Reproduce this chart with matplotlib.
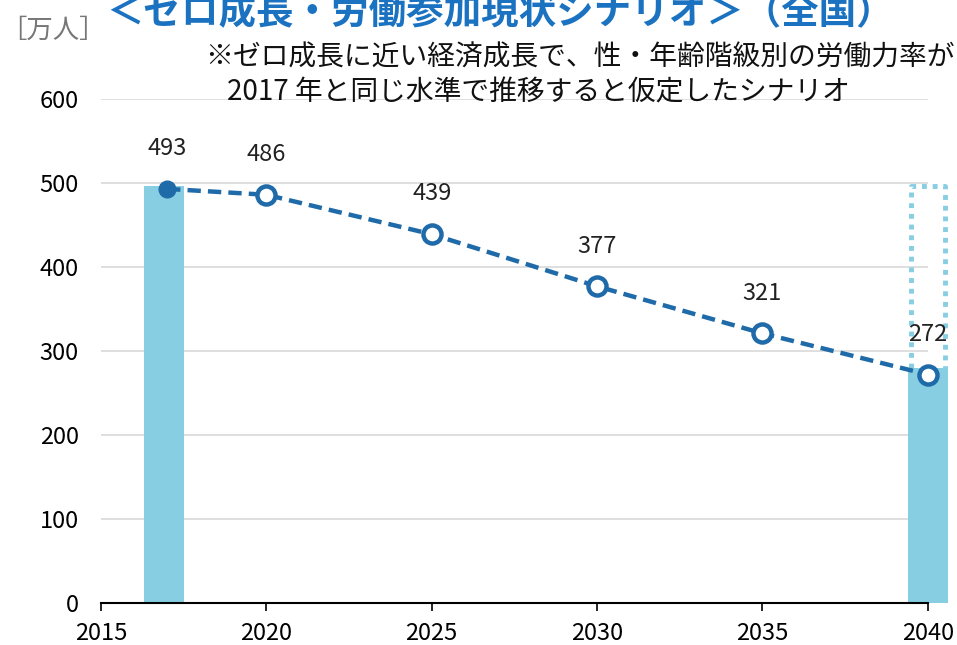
import matplotlib
matplotlib.use("Agg")
import matplotlib.pyplot as plt

plt.rcParams['font.family'] = ['Noto Sans CJK JP', 'DejaVu Sans']

# データ
years = [2017, 2020, 2025, 2030, 2035, 2040]
values = [493, 486, 439, 377, 321, 272]
bar_years = [2017, 2040]
bar_values = [497, 280]
outline_value = 497  # 2017年の水準（点線枠）

line_color = '#1f6aa8'
bar_color = '#87cee3'

fig = plt.figure(figsize=(9.57, 6.45), dpi=100)
ax = fig.add_axes([0.1055, 0.0651, 0.864, 0.7814])

ax.bar([bar_years[0] - 0.1, bar_years[1]], bar_values, width=1.22, color=bar_color,
       clip_on=False, zorder=2)
# 2040年の点線枠（2017年水準まで）
hw = 0.52
x0 = bar_years[1]
ax.plot([x0 - hw, x0 - hw, x0 + hw, x0 + hw],
        [bar_values[1], outline_value, outline_value, bar_values[1]],
        color=bar_color, linestyle=(0, (1, 1.2)), linewidth=3.5,
        clip_on=False, zorder=1)

ax.plot(years, values, color=line_color, linewidth=3.2, linestyle=(0, (3, 1.6)),
        zorder=3, clip_on=False)
ax.plot(years[1:], values[1:], 'o', markersize=13, markerfacecolor='white',
        markeredgecolor=line_color, markeredgewidth=3.2, zorder=4, clip_on=False)
ax.plot(years[:1], values[:1], 'o', markersize=12, color=line_color, zorder=4,
        clip_on=False)

for x, v in zip(years, values):
    ax.annotate(str(v), (x, v), xytext=(0, 29), textcoords='offset points',
                ha='center', va='center', fontsize=17, color='#222222')

ax.set_xlim(2015, 2040)
ax.set_ylim(0, 600)
ax.set_xticks(range(2015, 2041, 5))
ax.set_yticks(range(0, 601, 100))
ax.tick_params(axis='x', labelsize=17, length=6, width=1.2, color='black', pad=8)
ax.tick_params(axis='y', labelsize=17, length=0, pad=16)
ax.grid(axis='y', color='#d9d9d9', linewidth=1.2, zorder=0)
ax.set_axisbelow(True)
for s in ['top', 'right', 'left']:
    ax.spines[s].set_visible(False)
ax.spines['bottom'].set_linewidth(1.5)

fig.text(0.0, 0.953, '［万人］', fontsize=19, color='#777777', ha='left', va='center')
fig.text(0.522, 0.98, '＜ゼロ成長・労働参加現状シナリオ＞（全国）', fontsize=27,
         fontweight='bold', color='#1a72c0', ha='center', va='center')
fig.text(0.998, 0.910, '※ゼロ成長に近い経済成長で、性・年齢階級別の労働力率が',
         fontsize=20, ha='right', va='center', color='#111111')
fig.text(0.563, 0.857, '2017 年と同じ水準で推移すると仮定したシナリオ',
         fontsize=20, ha='center', va='center', color='#111111')

fig.savefig('out.png', dpi=100)
